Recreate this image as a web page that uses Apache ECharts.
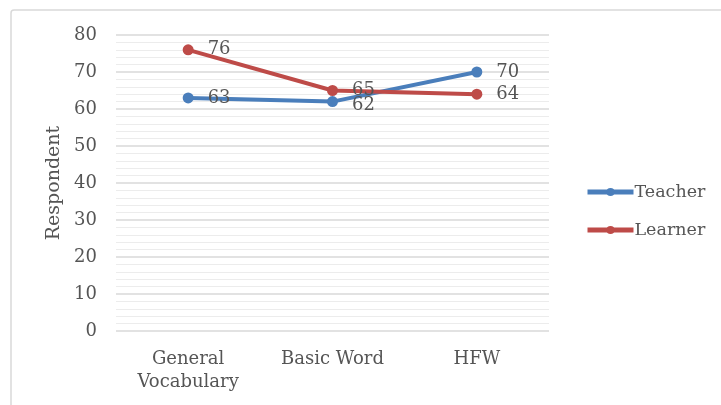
<!DOCTYPE html>
<html>
<head>
<meta charset="utf-8">
<script src="https://cdn.jsdelivr.net/npm/echarts@6/dist/echarts.min.js"></script>
<style>
  html, body { margin: 0; padding: 0; background: #fff; }
  #chart { width: 721px; height: 405px; }
</style>
</head>
<body>
<div id="chart"></div>
<script>
var categories = ['General\nVocabulary', 'Basic Word', 'HFW'];
var teacher = [63, 62, 70];
var learner = [76, 65, 64];
var yTicks = [0, 10, 20, 30, 40, 50, 60, 70, 80];

var chart = echarts.init(document.getElementById('chart'));
var font = '"DejaVu Serif", "Liberation Serif", serif';
var textColor = '#555555';

var option = {
  animation: false,
  graphic: [{
    type: 'rect',
    shape: { x: 11, y: 10, width: 720, height: 400, r: 3 },
    style: { fill: 'none', stroke: '#d9d9d9', lineWidth: 1.5 },
    z: -1
  }],
  grid: { left: 116, right: 172, top: 35, bottom: 74 },
  legend: {
    orient: 'vertical',
    left: 580,
    top: 178,
    itemGap: 20,
    itemWidth: 46,
    itemHeight: 10,
    lineStyle: { width: 5 },
    textStyle: { fontFamily: font, fontSize: 17.5, color: textColor, padding: [0, 0, 0, -4] },
    data: ['Teacher', 'Learner']
  },
  xAxis: {
    type: 'category',
    data: categories,
    boundaryGap: true,
    axisLine: { show: false },
    axisTick: { show: false },
    axisLabel: { fontFamily: font, fontSize: 18, color: textColor, margin: 17, lineHeight: 23 }
  },
  yAxis: {
    type: 'value',
    min: 0,
    max: 80,
    interval: 10,
    name: 'Respondent',
    nameLocation: 'middle',
    nameGap: 50,
    nameTextStyle: { fontFamily: font, fontSize: 19, color: textColor },
    axisLine: { show: false },
    axisTick: { show: false },
    axisLabel: {
      fontFamily: font, fontSize: 18, color: textColor, margin: 19,
      formatter: function (v) { return yTicks.indexOf(v) >= 0 ? String(v) : ''; }
    },
    splitLine: { lineStyle: { color: '#d9d9d9', width: 1.5 } },
    minorTick: { show: false, splitNumber: 5 },
    minorSplitLine: { show: true, lineStyle: { color: '#ececec', width: 1 } }
  },
  series: [
    {
      name: 'Teacher',
      type: 'line',
      data: teacher.map(function (v, i) {
        return i === 1 ? { value: v, label: { offset: [0, 4] } } : v;
      }),
      symbol: 'circle',
      symbolSize: 11,
      color: '#4a7ebb',
      lineStyle: { width: 4, color: '#4a7ebb' },
      label: { show: true, position: 'right', distance: 14, fontFamily: font, fontSize: 18, color: textColor }
    },
    {
      name: 'Learner',
      type: 'line',
      data: learner,
      symbol: 'circle',
      symbolSize: 11,
      color: '#be4b48',
      lineStyle: { width: 4, color: '#be4b48' },
      label: { show: true, position: 'right', distance: 14, fontFamily: font, fontSize: 18, color: textColor }
    }
  ]
};

chart.setOption(option);
</script>
</body>
</html>
